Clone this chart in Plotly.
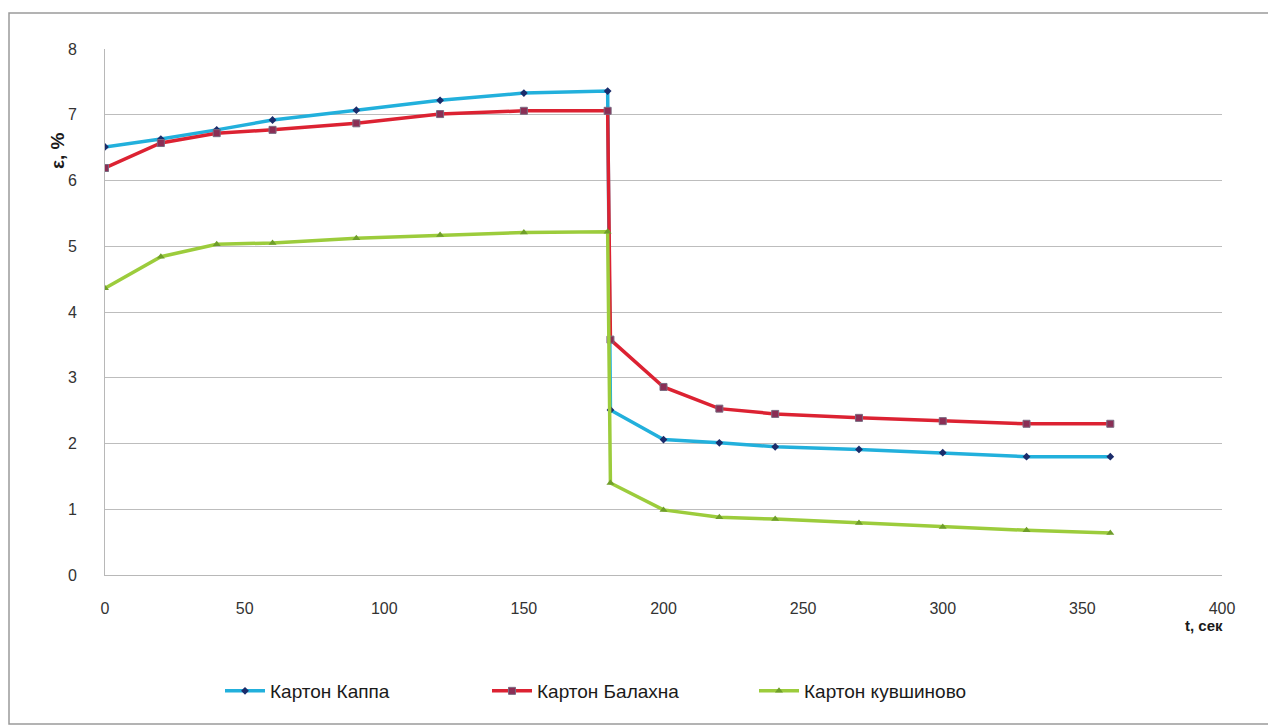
import plotly.graph_objects as go

t = [0, 20, 40, 60, 90, 120, 150, 180, 181, 200, 220, 240, 270, 300, 330, 360]
kappa = [6.51, 6.63, 6.77, 6.92, 7.07, 7.22, 7.33, 7.36, 2.51, 2.06, 2.01, 1.95, 1.91, 1.86, 1.80, 1.80]
balakhna = [6.19, 6.57, 6.72, 6.77, 6.87, 7.01, 7.06, 7.06, 3.58, 2.86, 2.53, 2.45, 2.39, 2.34, 2.30, 2.30]
kuvshinovo = [4.36, 4.84, 5.03, 5.05, 5.12, 5.17, 5.21, 5.22, 1.40, 0.99, 0.88, 0.85, 0.79, 0.73, 0.68, 0.64]

names = ["Картон Каппа", "Картон Балахна", "Картон кувшиново"]
x_ticks = [0, 50, 100, 150, 200, 250, 300, 350, 400]
y_ticks = [0, 1, 2, 3, 4, 5, 6, 7, 8]

fig = go.Figure()
fig.add_trace(go.Scatter(x=t, y=kappa, name=names[0], mode="lines+markers",
                         line=dict(color="#22b0dc", width=3.5),
                         marker=dict(symbol="diamond", size=6, color="#1b2c6b")))
fig.add_trace(go.Scatter(x=t, y=balakhna, name=names[1], mode="lines+markers",
                         line=dict(color="#dc2232", width=3.5),
                         marker=dict(symbol="square", size=7, color="#8a2e55",
                                     line=dict(color="#7a6a80", width=1))))
fig.add_trace(go.Scatter(x=t, y=kuvshinovo, name=names[2], mode="lines+markers",
                         line=dict(color="#9ccc3c", width=3.5),
                         marker=dict(symbol="triangle-up", size=7, color="#6f9e2a")))

OFF = 8  # page body margin
W, H = 1276 - OFF, 727 - OFF
L, T = 105 - OFF, 49 - OFF
R = W - (1222 - OFF)
B = H - (575 - OFF)
pw, ph = W - L - R, H - T - B

def px_x(x):
    return (x - OFF - L) / pw

def px_y(y):
    return (H - B - (y - OFF)) / ph

fig.update_layout(
    width=W, height=H,
    margin=dict(l=L, r=R, t=T, b=B),
    paper_bgcolor="white", plot_bgcolor="white",
    font=dict(family="Liberation Sans, Arial, sans-serif", color="#333333"),
    showlegend=True,
    legend=dict(orientation="h", x=px_x(220), xanchor="left", y=px_y(691), yanchor="middle",
                font=dict(size=19, color="#1a1a1a", family="Liberation Sans, Arial"),
                entrywidth=212, entrywidthmode="pixels", itemwidth=40),
    xaxis=dict(range=[0, 400], tickvals=x_ticks, showgrid=False, zeroline=False,
               showline=True, linecolor="#b8b8b8", linewidth=1,
               ticks="", ticklabelstandoff=19,
               tickfont=dict(size=16, color="#333333")),
    yaxis=dict(range=[0, 8], tickvals=y_ticks, showgrid=True, gridcolor="#bdbdbd", gridwidth=1,
               zeroline=False, showline=True, linecolor="#b8b8b8", linewidth=1,
               ticks="", ticklabelstandoff=24,
               tickfont=dict(size=16, color="#333333")),
    annotations=[
        dict(text="<b>ε, %</b>", textangle=-90, xref="paper", yref="paper",
             x=px_x(45), y=px_y(130), showarrow=False, font=dict(size=19, color="#1a1a1a")),
        dict(text="<b>t, сек</b>", xref="paper", yref="paper",
             x=px_x(1225), y=px_y(636), showarrow=False, font=dict(size=15, color="#1a1a1a")),
    ],
    shapes=[
        dict(type="rect", xref="paper", yref="paper",
             x0=px_x(9), x1=px_x(1274), y0=px_y(724), y1=px_y(13),
             line=dict(color="#9a9a9a", width=1.5), fillcolor="rgba(0,0,0,0)", layer="below"),
    ],
)

fig.write_html("out.html")
